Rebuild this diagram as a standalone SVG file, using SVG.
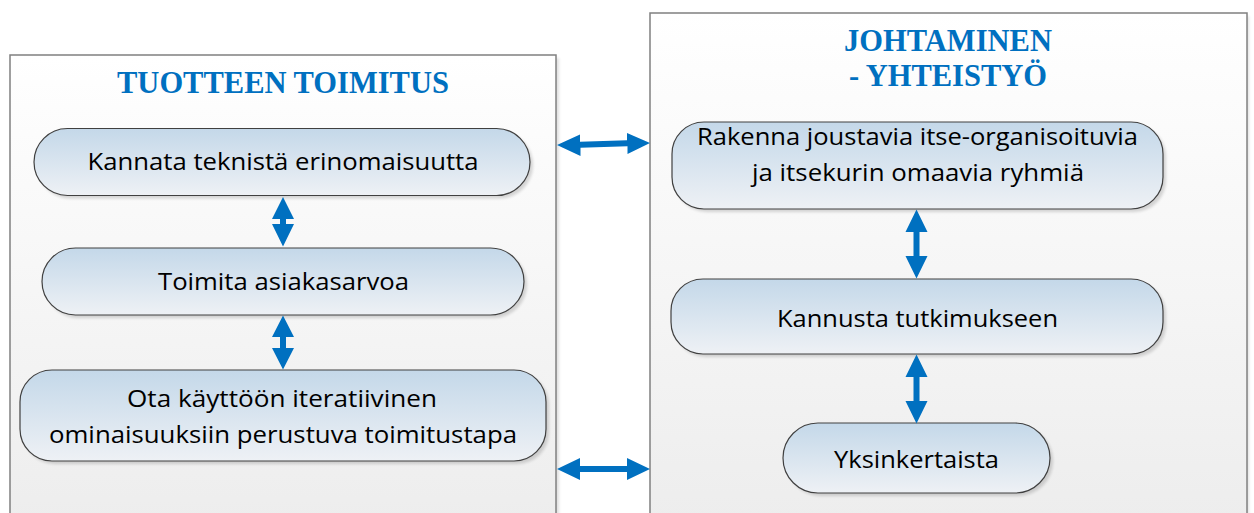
<svg xmlns="http://www.w3.org/2000/svg" width="1254" height="513" viewBox="0 0 1254 513">
  <defs>
    <linearGradient id="panelFill" x1="0" y1="0" x2="0" y2="1">
      <stop offset="0" stop-color="#ffffff"/>
      <stop offset="1" stop-color="#ededed"/>
    </linearGradient>
    <linearGradient id="nodeFill" x1="0" y1="0" x2="0" y2="1">
      <stop offset="0" stop-color="#c4d8e9"/>
      <stop offset="1" stop-color="#eef1f5"/>
    </linearGradient>
    <filter id="soft" x="-10%" y="-20%" width="120%" height="140%">
      <feGaussianBlur stdDeviation="1.5"/>
    </filter>
  </defs>
  <style>
    .panel { fill: url(#panelFill); stroke: #808080; stroke-width: 1.5; }
    .panel-shadow { fill: #000; opacity: 0.12; filter: url(#soft); }
    .title { font-family: "Liberation Serif", "Times New Roman", serif; font-weight: bold; font-size: 30.5px; fill: #0070c0; text-anchor: middle; }
    .node { fill: url(#nodeFill); stroke: #404040; stroke-width: 1.2; }
    .shadow { fill: #000; opacity: 0.15; filter: url(#soft); }
    .label { font-family: "Open Sans", "Liberation Sans", sans-serif; font-size: 24px; fill: #000; text-anchor: middle; }
    .arrow { fill: #0070c0; }
  </style>

  <!-- left panel -->
  <g id="panel-delivery">
    <rect class="panel-shadow" x="13" y="58" width="546" height="470"/>
    <rect class="panel" x="10" y="55" width="546" height="470"/>
    <text class="title" x="283" y="93">TUOTTEEN TOIMITUS</text>
  </g>

  <!-- right panel -->
  <g id="panel-leadership">
    <rect class="panel-shadow" x="652" y="16" width="597" height="510"/>
    <rect class="panel" x="650" y="13" width="597" height="510"/>
    <text class="title" x="948" y="51">JOHTAMINEN</text>
    <text class="title" x="948" y="86">- YHTEISTYÖ</text>
  </g>

  <g id="node-tekninen">
    <rect class="shadow" x="37" y="131.5" width="496" height="67" rx="33.5"/>
    <rect class="node" x="34" y="128.5" width="496" height="67" rx="33.5"/>
    <text class="label" x="283" y="170" textLength="391" lengthAdjust="spacingAndGlyphs">Kannata teknistä erinomaisuutta</text>
  </g>

  <g id="node-asiakasarvo">
    <rect class="shadow" x="45" y="251" width="482" height="67" rx="33.5"/>
    <rect class="node" x="42" y="248" width="482" height="67" rx="33.5"/>
    <text class="label" x="283.5" y="290" textLength="251" lengthAdjust="spacingAndGlyphs">Toimita asiakasarvoa</text>
  </g>

  <g id="node-iteratiivinen">
    <rect class="shadow" x="23" y="373" width="526" height="91" rx="32"/>
    <rect class="node" x="20" y="370" width="526" height="91" rx="32"/>
    <text class="label" x="282" y="407" textLength="310" lengthAdjust="spacingAndGlyphs">Ota käyttöön iteratiivinen</text>
    <text class="label" x="283" y="443" textLength="468" lengthAdjust="spacingAndGlyphs">ominaisuuksiin perustuva toimitustapa</text>
  </g>

  <g id="node-ryhmat">
    <rect class="shadow" x="675" y="125" width="491" height="87" rx="32"/>
    <rect class="node" x="672" y="122" width="491" height="87" rx="32"/>
    <text class="label" x="917.5" y="145" textLength="441" lengthAdjust="spacingAndGlyphs">Rakenna joustavia itse-organisoituvia</text>
    <text class="label" x="918" y="181" textLength="332" lengthAdjust="spacingAndGlyphs">ja itsekurin omaavia ryhmiä</text>
  </g>

  <g id="node-tutkimus">
    <rect class="shadow" x="674" y="282" width="492" height="75" rx="32"/>
    <rect class="node" x="671" y="279" width="492" height="75" rx="32"/>
    <text class="label" x="917.5" y="327" textLength="281" lengthAdjust="spacingAndGlyphs">Kannusta tutkimukseen</text>
  </g>

  <g id="node-yksinkertaista">
    <rect class="shadow" x="786" y="426" width="267" height="70" rx="35"/>
    <rect class="node" x="783" y="423" width="267" height="70" rx="35"/>
    <text class="label" x="916.5" y="468" textLength="165" lengthAdjust="spacingAndGlyphs">Yksinkertaista</text>
  </g>

  <!-- double-headed block arrows -->
  <g id="connectors">
    <!-- vertical, left column -->
    <path class="arrow" d="M283 197 L294 219 L286 219 L286 224 L294 224 L283 246.5 L272 224 L280 224 L280 219 L272 219 Z"/>
    <path class="arrow" d="M283 315.5 L294 337 L286 337 L286 348 L294 348 L283 369.5 L272 348 L280 348 L280 337 L272 337 Z"/>
    <!-- vertical, right column -->
    <path class="arrow" d="M916.5 209.5 L927.5 232 L919.5 232 L919.5 256 L927.5 256 L916.5 278.5 L905.5 256 L913.5 256 L913.5 232 L905.5 232 Z"/>
    <path class="arrow" d="M916.5 354.5 L927.5 377 L919.5 377 L919.5 401 L927.5 401 L916.5 423.5 L905.5 401 L913.5 401 L913.5 377 L905.5 377 Z"/>
    <!-- horizontal, between panels -->
    <path class="arrow" d="M557 145 L580 134.5 L580 141.8 L627 140.2 L627 133 L650 143 L627.5 154 L627.5 146.2 L580.5 147.8 L580.5 156 Z"/>
    <path class="arrow" d="M557 469 L580 458 L580 466 L627 466 L627 458 L650 469 L627 480 L627 472 L580 472 L580 480 Z"/>
  </g>
</svg>
